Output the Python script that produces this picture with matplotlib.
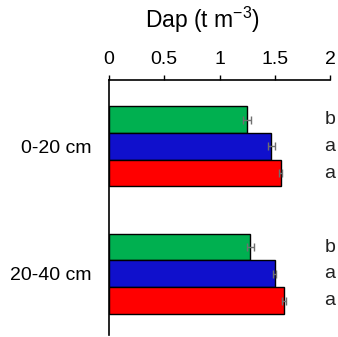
import numpy as np
import matplotlib
matplotlib.use("Agg")
import matplotlib.pyplot as plt

plt.rcParams["font.family"] = ["Liberation Sans", "DejaVu Sans"]
plt.rcParams["mathtext.fontset"] = "custom"
plt.rcParams["mathtext.rm"] = "Liberation Sans"
plt.rcParams["mathtext.it"] = "Liberation Sans:italic"

depths = ["0-20 cm", "20-40 cm"]
# bar order inside each group, top to bottom
colors = ["#00B050", "#1010CC", "#FF0000"]
dap_green = [1.25, 1.28]
dap_blue = [1.47, 1.50]
dap_red = [1.555, 1.585]
err_green = [0.035, 0.03]
err_blue = [0.03, 0.015]
err_red = [0.015, 0.02]
letters_green = ["b", "b"]
letters_blue = ["a", "a"]
letters_red = ["a", "a"]

fig = plt.figure(figsize=(3.38, 3.37), dpi=100)
ax = fig.add_axes([109 / 338, 2 / 337, 1 - 109 / 338 - 8 / 338, 1 - 80 / 337 - 2 / 337])

h = 0.21
pos = np.arange(len(depths))
series = [(dap_green, err_green, letters_green),
          (dap_blue, err_blue, letters_blue),
          (dap_red, err_red, letters_red)]
for k, (vals, errs, lets) in enumerate(series):
    y = pos + (k - 1) * h
    ax.barh(y, vals, height=h, color=colors[k], edgecolor="black", linewidth=1)
    ax.errorbar(vals, y, xerr=errs, fmt="none", ecolor="#707070",
                elinewidth=1, capsize=3, capthick=1)
    for yy, l in zip(y, lets):
        ax.text(2.0, yy, l, fontsize=14, va="center", ha="center",
                color="#222222", clip_on=False)

ax.set_xlim(0, 2)
ax.set_ylim(1.48, -0.52)
ax.xaxis.tick_top()
ax.set_xticks([0, 0.5, 1, 1.5, 2])
ax.set_xticklabels(["0", "0.5", "1", "1.5", "2"])
ax.tick_params(axis="x", labelsize=14, length=3.5, width=1, direction="out", pad=5)
ax.set_yticks(pos)
ax.set_yticklabels(depths)
ax.tick_params(axis="y", length=0, labelsize=14, pad=12.5)
for s in ["right", "bottom"]:
    ax.spines[s].set_visible(False)
ax.spines["top"].set_linewidth(1.2)
ax.spines["left"].set_linewidth(1.2)
ax.patch.set_alpha(0)

fig.text(202 / 338, 1 - 28 / 337, "Dap (t m$^{\\mathrm{-3}}$)", fontsize=16.5,
         ha="center", va="baseline")

fig.savefig("out.png", dpi=100)
